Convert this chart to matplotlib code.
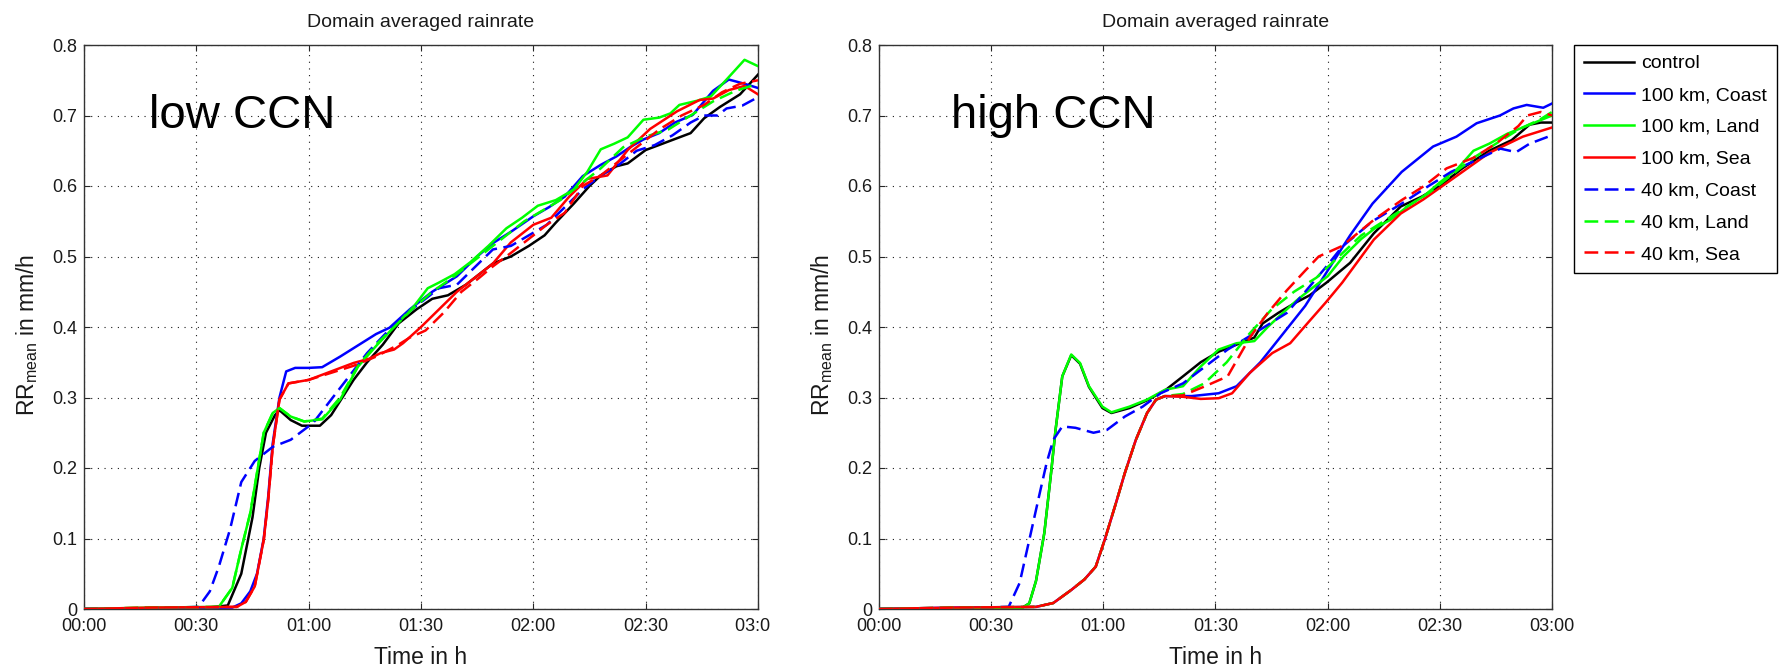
import matplotlib
matplotlib.use("Agg")
import matplotlib.pyplot as plt

plt.rcParams['font.family'] = ['Liberation Sans', 'DejaVu Sans']
plt.rcParams['mathtext.fontset'] = 'custom'
plt.rcParams['mathtext.rm'] = 'Liberation Sans'
plt.rcParams['mathtext.it'] = 'Liberation Sans:italic'

# ---------------- data ----------------
series_names = ['control', '100 km, Coast', '100 km, Land', '100 km, Sea',
                '40 km, Coast', '40 km, Land', '40 km, Sea']
series_colors = ['#000000', '#0000ff', '#00ff00', '#ff0000',
                 '#0000ff', '#00ff00', '#ff0000']
series_dashed = [False, False, False, False, True, True, True]

x_ticks = [0, 0.5, 1.0, 1.5, 2.0, 2.5, 3.0]
x_labels_left = ['00:00', '00:30', '01:00', '01:30', '02:00', '02:30', '03:0\u2007']
x_labels_right = ['00:00', '00:30', '01:00', '01:30', '02:00', '02:30', '03:00']
y_ticks = [0, 0.1, 0.2, 0.3, 0.4, 0.5, 0.6, 0.7, 0.8]
y_labels = ['0', '0.1', '0.2', '0.3', '0.4', '0.5', '0.6', '0.7', '0.8']

panel_titles = ['Domain averaged rainrate', 'Domain averaged rainrate']
panel_tags = ['low CCN', 'high CCN']

# ---- low CCN (time in h, rain rate in mm/h) ----
t_low_control = [0, 0.30, 0.55, 0.64, 0.70, 0.75, 0.78, 0.81, 0.85, 0.87, 0.92, 0.97, 1.05, 1.10, 1.15, 1.20, 1.26, 1.33, 1.40, 1.48,
                 1.55, 1.62, 1.70, 1.82, 1.90, 1.98, 2.05, 2.10, 2.18, 2.25, 2.30, 2.37, 2.42, 2.50, 2.60, 2.70, 2.76, 2.83, 2.92, 3.0]
v_low_control = [0, 0, 0.002, 0.005, 0.05, 0.13, 0.20, 0.25, 0.275, 0.282, 0.268, 0.26, 0.26, 0.275, 0.30, 0.325, 0.35, 0.375, 0.405, 0.425,
                 0.44, 0.445, 0.46, 0.49, 0.50, 0.515, 0.53, 0.548, 0.575, 0.60, 0.615, 0.628, 0.632, 0.651, 0.663, 0.675, 0.696, 0.712, 0.73, 0.758]

t_low_coast100 = [0, 0.30, 0.66, 0.70, 0.74, 0.77, 0.80, 0.82, 0.84, 0.87, 0.90, 0.94, 1.0, 1.06, 1.14, 1.20, 1.26, 1.30, 1.36, 1.45,
                  1.55, 1.66, 1.75, 1.82, 1.90, 2.0, 2.07, 2.14, 2.22, 2.30, 2.37, 2.43, 2.49, 2.56, 2.63, 2.71, 2.80, 2.87, 2.94, 3.0]
v_low_coast100 = [0, 0.001, 0.002, 0.008, 0.025, 0.05, 0.10, 0.16, 0.235, 0.30, 0.337, 0.342, 0.342, 0.343, 0.358, 0.37, 0.382, 0.39, 0.399, 0.425,
                  0.45, 0.472, 0.50, 0.519, 0.535, 0.557, 0.57, 0.585, 0.614, 0.63, 0.642, 0.655, 0.666, 0.675, 0.69, 0.701, 0.735, 0.751, 0.745, 0.739]

t_low_land100 = [0, 0.30, 0.60, 0.66, 0.70, 0.74, 0.77, 0.80, 0.84, 0.87, 0.92, 0.98, 1.06, 1.14, 1.22, 1.30, 1.38, 1.47, 1.53, 1.58,
                 1.65, 1.72, 1.80, 1.88, 1.95, 2.02, 2.10, 2.18, 2.24, 2.30, 2.36, 2.42, 2.49, 2.56, 2.61, 2.65, 2.73, 2.79, 2.86, 2.94, 3.0]
v_low_land100 = [0, 0.002, 0.003, 0.03, 0.085, 0.136, 0.193, 0.25, 0.278, 0.285, 0.273, 0.266, 0.269, 0.297, 0.344, 0.373, 0.40, 0.43, 0.455, 0.463,
                 0.475, 0.492, 0.515, 0.54, 0.555, 0.572, 0.58, 0.595, 0.62, 0.652, 0.66, 0.669, 0.694, 0.697, 0.703, 0.715, 0.721, 0.727, 0.751, 0.779, 0.77]

t_low_sea100 = [0, 0.30, 0.68, 0.72, 0.76, 0.80, 0.82, 0.84, 0.87, 0.91, 1.0, 1.10, 1.20, 1.27, 1.32, 1.38, 1.42, 1.50, 1.58, 1.66,
                1.74, 1.82, 1.90, 2.0, 2.08, 2.16, 2.24, 2.33, 2.42, 2.52, 2.64, 2.74, 2.80, 2.87, 2.94, 3.0]
v_low_sea100 = [0, 0.002, 0.003, 0.01, 0.032, 0.098, 0.155, 0.23, 0.297, 0.32, 0.325, 0.337, 0.349, 0.355, 0.363, 0.368, 0.377, 0.40, 0.425, 0.45,
                0.47, 0.49, 0.52, 0.545, 0.555, 0.585, 0.61, 0.615, 0.651, 0.681, 0.706, 0.722, 0.724, 0.736, 0.742, 0.73]

t_low_coast40 = [0, 0.30, 0.51, 0.56, 0.60, 0.65, 0.70, 0.76, 0.84, 0.92, 1.02, 1.10, 1.18, 1.26, 1.34, 1.42, 1.50, 1.58, 1.66, 1.74,
                 1.82, 1.90, 1.98, 2.06, 2.14, 2.22, 2.30, 2.38, 2.46, 2.54, 2.62, 2.70, 2.76, 2.82, 2.86, 2.93, 3.0]
v_low_coast40 = [0, 0.001, 0.003, 0.025, 0.06, 0.113, 0.18, 0.21, 0.23, 0.24, 0.264, 0.297, 0.33, 0.363, 0.39, 0.415, 0.435, 0.455, 0.46, 0.485,
                 0.51, 0.515, 0.53, 0.545, 0.57, 0.595, 0.615, 0.63, 0.65, 0.658, 0.672, 0.69, 0.70, 0.70, 0.71, 0.714, 0.726]

t_low_land40 = [0, 0.30, 0.60, 0.66, 0.70, 0.74, 0.77, 0.80, 0.84, 0.87, 0.92, 0.98, 1.06, 1.14, 1.22, 1.30, 1.38, 1.46, 1.55, 1.64,
                1.72, 1.80, 1.88, 1.96, 2.04, 2.12, 2.20, 2.30, 2.40, 2.50, 2.60, 2.70, 2.80, 2.90, 3.0]
v_low_land40 = [0, 0.002, 0.003, 0.03, 0.085, 0.136, 0.193, 0.25, 0.278, 0.285, 0.273, 0.266, 0.27, 0.30, 0.345, 0.375, 0.40, 0.425, 0.45, 0.47,
                0.49, 0.51, 0.53, 0.55, 0.565, 0.58, 0.60, 0.625, 0.655, 0.67, 0.68, 0.70, 0.72, 0.735, 0.745]

t_low_sea40 = [0, 0.30, 0.68, 0.72, 0.76, 0.80, 0.82, 0.84, 0.87, 0.91, 1.0, 1.10, 1.20, 1.30, 1.40, 1.45, 1.52, 1.60, 1.68, 1.76,
               1.82, 1.90, 1.98, 2.06, 2.14, 2.22, 2.30, 2.40, 2.48, 2.56, 2.66, 2.76, 2.84, 2.92, 3.0]
v_low_sea40 = [0, 0.002, 0.003, 0.01, 0.032, 0.098, 0.155, 0.23, 0.297, 0.32, 0.325, 0.335, 0.345, 0.358, 0.375, 0.385, 0.395, 0.42, 0.45, 0.47,
               0.486, 0.505, 0.525, 0.545, 0.562, 0.60, 0.615, 0.64, 0.66, 0.68, 0.70, 0.715, 0.733, 0.745, 0.75]

# ---- high CCN ----
t_high_control = [0, 0.33, 0.64, 0.67, 0.70, 0.737, 0.767, 0.787, 0.817, 0.857, 0.896, 0.936, 0.996, 1.036, 1.116, 1.195, 1.275, 1.355, 1.434, 1.514,
                  1.594, 1.673, 1.71, 1.78, 1.854, 1.92, 1.995, 2.10, 2.206, 2.326, 2.42, 2.5, 2.6, 2.72, 2.82, 2.9, 2.95, 3.0]
v_high_control = [0, 0.001, 0.002, 0.008, 0.04, 0.108, 0.193, 0.254, 0.33, 0.360, 0.348, 0.315, 0.285, 0.278, 0.285, 0.296, 0.31, 0.33, 0.35, 0.365,
                  0.375, 0.385, 0.405, 0.42, 0.434, 0.445, 0.463, 0.491, 0.533, 0.571, 0.585, 0.60, 0.625, 0.65, 0.665, 0.687, 0.69, 0.69]

t_high_coast100 = [0, 0.33, 0.70, 0.777, 0.857, 0.916, 0.966, 1.006, 1.056, 1.096, 1.145, 1.195, 1.235, 1.275, 1.394, 1.514, 1.594, 1.70, 1.80, 1.90,
                   2.0, 2.1, 2.2, 2.33, 2.47, 2.574, 2.664, 2.768, 2.828, 2.887, 2.961, 3.0]
v_high_coast100 = [0, 0.002, 0.003, 0.0085, 0.027, 0.042, 0.06, 0.098, 0.15, 0.193, 0.24, 0.278, 0.297, 0.302, 0.302, 0.306, 0.316, 0.35, 0.39, 0.43,
                   0.48, 0.53, 0.575, 0.62, 0.656, 0.67, 0.689, 0.70, 0.71, 0.715, 0.711, 0.717]

t_high_land100 = [0, 0.33, 0.64, 0.67, 0.70, 0.737, 0.767, 0.787, 0.817, 0.857, 0.896, 0.936, 0.996, 1.036, 1.116, 1.195, 1.275, 1.355, 1.434, 1.514,
                  1.594, 1.673, 1.733, 1.80, 1.87, 1.93, 2.0, 2.07, 2.15, 2.21, 2.28, 2.36, 2.43, 2.50, 2.58, 2.65, 2.72, 2.80, 2.90, 3.0]
v_high_land100 = [0, 0.001, 0.002, 0.008, 0.04, 0.108, 0.193, 0.254, 0.33, 0.361, 0.349, 0.316, 0.287, 0.279, 0.287, 0.297, 0.311, 0.316, 0.344, 0.368,
                  0.377, 0.38, 0.40, 0.42, 0.44, 0.455, 0.472, 0.50, 0.525, 0.54, 0.552, 0.572, 0.586, 0.605, 0.625, 0.65, 0.66, 0.674, 0.687, 0.70]

t_high_sea100 = [0, 0.33, 0.70, 0.777, 0.857, 0.916, 0.966, 1.006, 1.056, 1.096, 1.145, 1.195, 1.235, 1.275, 1.355, 1.434, 1.514, 1.574, 1.653, 1.753,
                 1.833, 1.912, 1.992, 2.065, 2.206, 2.326, 2.427, 2.574, 2.72, 2.87, 3.0]
v_high_sea100 = [0, 0.002, 0.003, 0.0085, 0.027, 0.042, 0.06, 0.098, 0.15, 0.193, 0.24, 0.278, 0.297, 0.302, 0.301, 0.298, 0.299, 0.306, 0.335, 0.363,
                 0.377, 0.406, 0.435, 0.463, 0.524, 0.561, 0.581, 0.614, 0.647, 0.67, 0.683]

t_high_coast40 = [0, 0.33, 0.578, 0.627, 0.677, 0.717, 0.747, 0.777, 0.817, 0.876, 0.956, 1.016, 1.096, 1.175, 1.255, 1.355, 1.454, 1.554, 1.673, 1.818,
                  1.90, 1.995, 2.065, 2.2, 2.33, 2.45, 2.55, 2.65, 2.77, 2.84, 2.9, 3.0]
v_high_coast40 = [0, 0.001, 0.003, 0.037, 0.108, 0.165, 0.207, 0.24, 0.259, 0.257, 0.25, 0.254, 0.273, 0.287, 0.306, 0.32, 0.344, 0.368, 0.391, 0.42,
                  0.45, 0.486, 0.514, 0.55, 0.575, 0.60, 0.62, 0.635, 0.653, 0.648, 0.66, 0.672]

t_high_land40 = [0, 0.33, 0.70, 0.777, 0.857, 0.916, 0.966, 1.006, 1.056, 1.096, 1.145, 1.195, 1.235, 1.275, 1.355, 1.45, 1.55, 1.65, 1.75, 1.85,
                 1.95, 2.05, 2.15, 2.25, 2.35, 2.45, 2.55, 2.65, 2.75, 2.85, 2.95, 3.0]
v_high_land40 = [0, 0.002, 0.003, 0.0085, 0.027, 0.042, 0.06, 0.098, 0.15, 0.193, 0.24, 0.278, 0.297, 0.302, 0.305, 0.32, 0.35, 0.39, 0.425, 0.45,
                 0.47, 0.50, 0.53, 0.55, 0.57, 0.59, 0.615, 0.64, 0.66, 0.68, 0.695, 0.705]

t_high_sea40 = [0, 0.33, 0.70, 0.777, 0.857, 0.916, 0.966, 1.006, 1.056, 1.096, 1.145, 1.195, 1.235, 1.275, 1.355, 1.454, 1.554, 1.653, 1.733, 1.818,
                1.90, 1.96, 2.065, 2.206, 2.33, 2.43, 2.53, 2.65, 2.75, 2.85, 2.89, 2.95, 3.0]
v_high_sea40 = [0, 0.002, 0.003, 0.0085, 0.027, 0.042, 0.06, 0.098, 0.15, 0.193, 0.24, 0.278, 0.297, 0.302, 0.303, 0.316, 0.33, 0.385, 0.42, 0.452,
                0.48, 0.50, 0.515, 0.552, 0.58, 0.60, 0.625, 0.64, 0.66, 0.685, 0.70, 0.705, 0.70]

low_series = [(t_low_control, v_low_control), (t_low_coast100, v_low_coast100),
              (t_low_land100, v_low_land100), (t_low_sea100, v_low_sea100),
              (t_low_coast40, v_low_coast40), (t_low_land40, v_low_land40),
              (t_low_sea40, v_low_sea40)]
high_series = [(t_high_control, v_high_control), (t_high_coast100, v_high_coast100),
               (t_high_land100, v_high_land100), (t_high_sea100, v_high_sea100),
               (t_high_coast40, v_high_coast40), (t_high_land40, v_high_land40),
               (t_high_sea40, v_high_sea40)]

# ---------------- figure ----------------
W, H = 1781, 672
fig = plt.figure(figsize=(W / 100, H / 100), dpi=100)
axL = fig.add_axes([84 / W, 1 - 609 / H, 674 / W, 564 / H])
axR = fig.add_axes([879 / W, 1 - 609 / H, 673 / W, 564 / H])

LW = 1.8
DASH = (0, (5.5, 2.6))
handles = []
for ax, data, xlabels, tag, tag_x, title in [
        (axL, low_series, x_labels_left, panel_tags[0], 0.29, panel_titles[0]),
        (axR, high_series, x_labels_right, panel_tags[1], 0.32, panel_titles[1])]:
    hs = []
    for (t, v), name, col, dashed in zip(data, series_names, series_colors, series_dashed):
        ln, = ax.plot(t, v, color=col, lw=LW,
                      linestyle=DASH if dashed else '-', label=name, zorder=3)
        hs.append(ln)
    handles = hs
    ax.set_xlim(0, 3)
    ax.set_ylim(0, 0.8)
    ax.set_xticks(x_ticks)
    ax.set_xticklabels(xlabels)
    ax.set_yticks(y_ticks)
    ax.set_yticklabels(y_labels)
    ax.tick_params(direction='in', length=4.5, width=0.8, top=True, right=True,
                   labelsize=13, colors='#262626', labelcolor='#1a1a1a')
    ax.tick_params(axis='x', pad=6.5)
    ax.tick_params(axis='y', pad=5)
    ax.grid(True, color='#1a1a1a', linestyle=(0, (1, 5)), linewidth=0.8)
    ax.set_axisbelow(True)
    for sp in ax.spines.values():
        sp.set_color('#333333')
        sp.set_linewidth(1.0)
    ax.set_title(title, fontsize=14, pad=13, color='#1a1a1a')
    ax.set_xlabel('Time in h', fontsize=16.5, color='#1a1a1a')
    ax.set_ylabel(r'RR$_{\mathrm{mean}}$ in mm/h', fontsize=16.5, color='#1a1a1a')
    ax.xaxis.set_label_coords(0.5, -0.065)
    ax.yaxis.set_label_coords(-0.065, 0.486)
    ax.text(tag_x, 0.682, tag, fontsize=34, va='baseline', ha='left', color='k', zorder=4)

leg = axR.legend(handles, series_names, loc='upper left',
                 bbox_to_anchor=(1574 / W, 1 - 45 / H), bbox_transform=fig.transFigure,
                 borderaxespad=0, fontsize=14, handlelength=2.6, handletextpad=0.35,
                 labelspacing=0.73, borderpad=0.5, fancybox=False, framealpha=1,
                 edgecolor='#000000')
leg.get_frame().set_linewidth(1.0)

fig.savefig('out.png', dpi=100)
